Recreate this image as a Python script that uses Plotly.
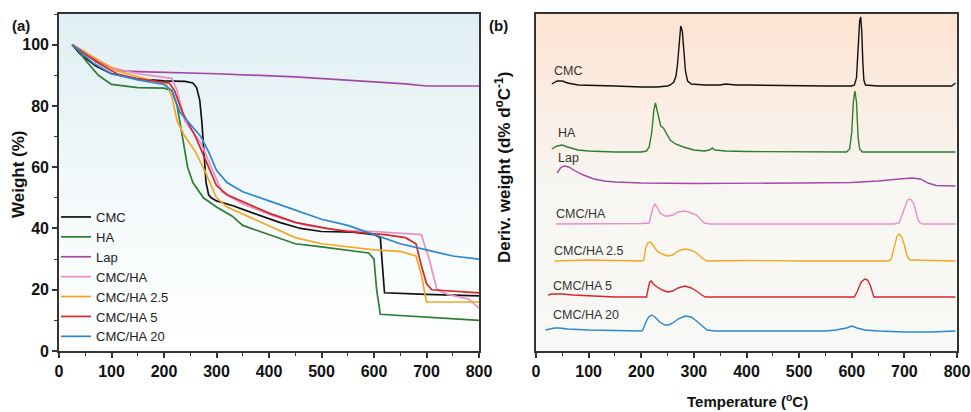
import plotly.graph_objects as go

# ---------------- Panel (a) TGA data ----------------
series_names = ["CMC", "HA", "Lap", "CMC/HA", "CMC/HA 2.5", "CMC/HA 5", "CMC/HA 20"]
series_colors = ["#111111", "#2e7d32", "#a548a5", "#e88fc4", "#f5a623", "#d62728", "#2a88d0"]

tga_T = {
    "CMC": [25, 40, 70, 100, 150, 200, 240, 255, 262, 268, 272, 276, 280, 285, 290, 300, 330, 370, 420, 460, 500, 560, 600, 612, 616, 620, 700, 800],
    "HA": [25, 35, 50, 75, 100, 150, 200, 215, 225, 235, 245, 255, 275, 300, 330, 350, 400, 450, 500, 550, 590, 600, 605, 612, 700, 800],
    "Lap": [25, 50, 70, 110, 150, 200, 300, 450, 600, 660, 700, 800],
    "CMC/HA": [25, 60, 100, 150, 215, 225, 240, 270, 290, 310, 350, 410, 470, 530, 600, 650, 690, 705, 720, 740, 780, 800],
    "CMC/HA 2.5": [25, 70, 110, 150, 205, 215, 225, 240, 260, 280, 300, 320, 360, 400, 450, 500, 550, 600, 650, 680, 690, 700, 800],
    "CMC/HA 5": [25, 70, 110, 150, 210, 220, 235, 260, 280, 300, 320, 360, 400, 450, 510, 550, 620, 660, 680, 690, 700, 710, 760, 800],
    "CMC/HA 20": [25, 65, 100, 150, 200, 215, 230, 250, 270, 285, 300, 320, 350, 400, 450, 500, 550, 600, 650, 700, 750, 800],
}
tga_W = {
    "CMC": [100, 97, 93, 90.5, 88.8, 88.2, 88, 87.5, 86, 82, 75, 63, 55, 51, 50, 49, 47.5, 45, 42, 40, 39, 38.8, 38, 37, 28, 19, 18.5, 18],
    "HA": [100, 98.5, 95, 90, 87, 86, 85.8, 85, 80, 70, 60, 55, 50, 47, 44, 41, 38, 35, 34, 33, 32, 30, 20, 12, 11, 10],
    "Lap": [100, 97.5, 95, 91.5, 91.2, 91, 90.5, 89.5, 88, 87.2, 86.5, 86.5],
    "CMC/HA": [100, 96.5, 92.5, 90.5, 89, 85, 75, 68, 60, 52, 48, 44, 41, 39.5, 39, 38.5, 38, 30, 20, 18.5, 17, 14],
    "CMC/HA 2.5": [100, 95.5, 91.5, 89.5, 87, 83, 75, 70, 65, 58, 50, 47, 44, 41, 37, 35, 34, 33, 32.5, 31, 25, 16, 16],
    "CMC/HA 5": [100, 94.5, 90.5, 88.8, 87.5, 85, 78, 70, 62, 54, 51, 48, 45, 42, 40, 39, 38, 37, 35, 28, 22, 20, 19.5, 19],
    "CMC/HA 20": [100, 94, 90.5, 88.5, 87, 85, 78, 74, 70, 65, 59, 55, 52, 49, 46, 43, 41, 38, 35, 33, 31, 30],
}

# ---------------- Panel (b) DTG data (relative to each curve's baseline) ----------------
dtg_T = {
    "CMC": [30, 40, 50, 60, 80, 100, 150, 200, 230, 250, 255, 262, 266, 269, 272, 275, 278, 281, 284, 288, 295, 320, 350, 360, 380, 400, 450, 500, 550, 600, 605, 609, 612, 615, 617, 619, 621, 623, 626, 650, 700, 750, 790, 797],
    "HA": [30, 40, 50, 60, 80, 100, 150, 200, 210, 215, 220, 224, 227, 230, 233, 237, 242, 248, 255, 265, 280, 300, 320, 330, 335, 340, 360, 400, 500, 590, 596, 600, 603, 606, 609, 612, 615, 620, 700, 797],
    "Lap": [40, 48, 55, 62, 75, 90, 110, 130, 150, 200, 300, 400, 500, 600, 650, 690, 715, 730, 745, 760, 797],
    "CMC/HA": [38, 100, 200, 215, 218, 222, 226, 230, 236, 245, 252, 260, 270, 283, 295, 305, 312, 320, 330, 400, 500, 600, 680, 690, 695, 700, 706, 712, 718, 724, 728, 735, 797],
    "CMC/HA 2.5": [35, 100, 150, 200, 205, 208, 212, 217, 222, 230, 240, 250, 260, 270, 283, 293, 303, 310, 318, 325, 400, 500, 600, 670, 675, 680, 686, 690, 695, 700, 705, 710, 715, 797],
    "CMC/HA 5": [23, 30, 40, 50, 70, 100, 150, 200, 210, 213, 216, 219, 223, 230, 240, 250, 260, 270, 283, 295, 305, 315, 322, 400, 500, 605, 610, 618, 625, 630, 635, 640, 642, 700, 797],
    "CMC/HA 20": [18, 25, 35, 45, 60, 100, 150, 200, 203, 208, 214, 220, 226, 235, 245, 252, 260, 270, 283, 295, 305, 315, 325, 340, 400, 450, 500, 550, 570, 590, 600, 610, 625, 650, 700, 750, 797],
}
dtg_V = {
    "CMC": [2, 5, 5, 3, 1, 0.5, 0, -1, -1, 0, 1, 4, 10, 22, 42, 60, 55, 35, 15, 5, 2, 1, 1, 2, 1, 1, 0.5, 0, 0, 0, 1, 8, 35, 65, 69, 55, 25, 6, 1, 0, 0, 0, 0, 3],
    "HA": [3, 6, 7, 5, 2, 1, 0, 0, 1, 5, 20, 42, 49, 42, 32, 26, 24, 18, 12, 8, 5, 2, 1, 2, 4, 2, 1, 0.5, 0, 0, 3, 20, 50, 61, 50, 15, 3, 0, 0, 0],
    "Lap": [10, 16, 17, 16, 12, 8, 4, 2, 1, 0, -0.5, -0.5, 0, 0.5, 2, 4, 5, 4, 0, -2.5, -3],
    "CMC/HA": [0, 0, 0.5, 1, 8, 16, 20, 17, 11, 8, 8, 9, 12, 13, 11, 9, 5, 1, 0, 0, 0, -0.5, 0, 1, 8, 16, 24, 25, 20, 8, 2, 0, 0],
    "CMC/HA 2.5": [0, 1, 0.5, 0, 1, 12, 18, 19, 16, 10, 7, 5, 6, 10, 12, 11, 9, 6, 2, 0, 0.5, 0, 0, 0, 2, 14, 25, 27, 24, 16, 5, 1, 1, 0],
    "CMC/HA 5": [2, 3, 3, 3, 2, 1, 0, 0, 0, 8, 15, 16, 13, 10, 7, 5, 6, 9, 11, 9, 6, 2, 0, 0, 0, 0, 5, 15, 18, 17, 12, 2, 0, 0, 0],
    "CMC/HA 20": [1, 2, 3, 3, 2, 1, 0.5, 0, 1, 8, 14, 16, 14, 9, 6, 6, 8, 12, 15, 14, 10, 5, 1, 0, 0, 0.5, 0, 0, 1, 3, 5, 3, 1, 0, -1, -1, 0],
}
dtg_offsets = [265, 199, 168, 127, 90, 54, 20]
dtg_label_T = [31, 38, 38, 35, 30, 28, 28]
dtg_label_V = [280, 218, 193, 137, 100, 65, 36]

x_ticks = [0, 100, 200, 300, 400, 500, 600, 700, 800]
y_ticks = [0, 20, 40, 60, 80, 100]

FONT = "Liberation Sans, Arial, sans-serif"

fig = go.Figure()

# gradient backgrounds
fig.add_trace(go.Heatmap(x=[0, 800], y=[0, 110], z=[[0, 0], [1, 1]], zsmooth="best",
                         colorscale=[[0, "#ffffff"], [0.35, "#f7fbfc"], [1, "#e0eff3"]],
                         showscale=False, hoverinfo="skip", xaxis="x", yaxis="y"))
fig.add_trace(go.Heatmap(x=[0, 800], y=[0, 337], z=[[0, 0], [1, 1]], zsmooth="best",
                         colorscale=[[0, "#f8f8f6"], [0.5, "#f8f6f2"], [1, "#fde3d2"]],
                         showscale=False, hoverinfo="skip", xaxis="x2", yaxis="y2"))

for name, color in zip(series_names, series_colors):
    fig.add_trace(go.Scatter(x=tga_T[name], y=tga_W[name], mode="lines", name=name,
                             line=dict(color=color, width=1.7), xaxis="x", yaxis="y"))

for name, color, off in zip(series_names, series_colors, dtg_offsets):
    fig.add_trace(go.Scatter(x=dtg_T[name], y=[v + off for v in dtg_V[name]], mode="lines",
                             line=dict(color=color, width=1.4), showlegend=False,
                             xaxis="x2", yaxis="y2"))

annotations = []
for name, t, v in zip(series_names, dtg_label_T, dtg_label_V):
    annotations.append(dict(x=t, y=v, xref="x2", yref="y2", text=name, showarrow=False,
                            xanchor="left", yanchor="middle",
                            font=dict(family=FONT, size=12.5, color="#333333")))

W, H = 971, 412
def px(x): return x / W
def py(y): return 1 - y / H

annotations += [
    dict(x=px(10), y=py(26), xref="paper", yref="paper", text="(a)", showarrow=False,
         xanchor="left", yanchor="middle", font=dict(family=FONT, size=15, color="#111", weight="bold")),
    dict(x=px(487), y=py(26), xref="paper", yref="paper", text="(b)", showarrow=False,
         xanchor="left", yanchor="middle", font=dict(family=FONT, size=15, color="#111", weight="bold")),
    dict(x=px(18), y=py(174), xref="paper", yref="paper", text="Weight (%)", showarrow=False,
         textangle=-90, xanchor="center", yanchor="middle",
         font=dict(family=FONT, size=17, color="#111", weight="bold")),
    dict(x=px(503), y=py(168), xref="paper", yref="paper", text="Deriv. weight (d% d<sup>o</sup>C<sup>-1</sup>)",
         showarrow=False, textangle=-90, xanchor="center", yanchor="middle",
         font=dict(family=FONT, size=17, color="#111", weight="bold")),
    dict(x=px(747), y=py(400), xref="paper", yref="paper", text="Temperature (<sup>o</sup>C)", showarrow=False,
         xanchor="center", yanchor="middle", font=dict(family=FONT, size=15, color="#111", weight="bold")),
]

axis_common = dict(showline=True, mirror=True, linecolor="#333333", linewidth=1.6,
                   showgrid=False, zeroline=False, ticks="outside", ticklen=5, tickwidth=1.5,
                   tickcolor="#333333", automargin=False,
                   tickfont=dict(family=FONT, size=16, color="#111111", weight="bold"))

fig.update_layout(
    width=W, height=H, margin=dict(l=0, r=0, t=0, b=0, pad=0, autoexpand=False),
    paper_bgcolor="white", plot_bgcolor="white",
    showlegend=True,
    legend=dict(x=px(56), y=py(202), xanchor="left", yanchor="top", bgcolor="rgba(0,0,0,0)",
                font=dict(family=FONT, size=13, color="#222222"), tracegroupgap=0,
                itemwidth=30),
    xaxis=dict(domain=[px(59), px(479)], range=[0, 800], tickvals=x_ticks, anchor="y",
               minor=dict(dtick=50, ticklen=3, tickwidth=1.2, tickcolor="#333333", ticks="outside"),
               **axis_common),
    yaxis=dict(domain=[1 - 351 / H, 1 - 14 / H], range=[0, 110], tickvals=y_ticks, anchor="x",
               minor=dict(dtick=10, ticklen=3, tickwidth=1.2, tickcolor="#333333", ticks="outside"),
               **axis_common),
    xaxis2=dict(domain=[px(536), px(957)], range=[0, 800], tickvals=x_ticks, anchor="y2",
                minor=dict(dtick=50, ticklen=3, tickwidth=1.2, tickcolor="#333333", ticks="outside"),
                **axis_common),
    yaxis2=dict(domain=[1 - 351 / H, 1 - 14 / H], range=[0, 337], anchor="x2", automargin=False,
                showline=True, mirror=True, linecolor="#333333", linewidth=1.6,
                showgrid=False, zeroline=False, showticklabels=False, ticks=""),
    annotations=annotations,
)

fig.write_html("out.html")
